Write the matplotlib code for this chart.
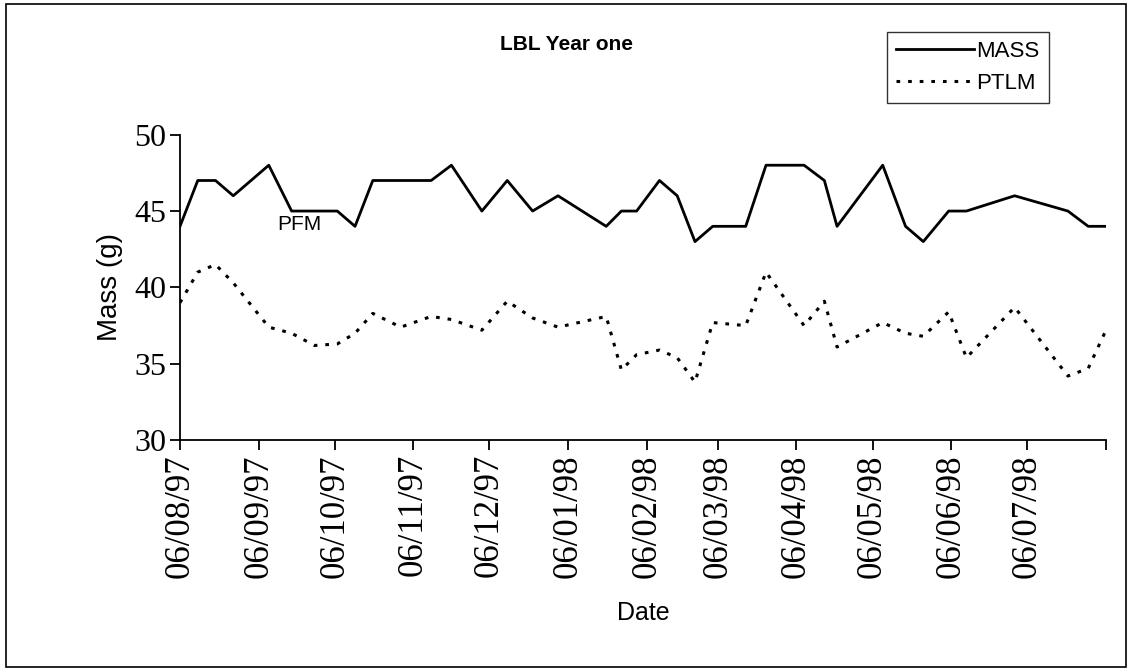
import pandas as pd
import matplotlib
matplotlib.use("Agg")
import matplotlib.pyplot as plt
from matplotlib.patches import Rectangle

# sampling dates (dd/mm/yy on the axis)
dates = pd.to_datetime([
    "1997-08-06", "1997-08-13", "1997-08-20", "1997-08-27", "1997-09-10",
    "1997-09-19", "1997-09-28", "1997-10-07", "1997-10-14", "1997-10-21",
    "1997-11-01", "1997-11-13", "1997-11-21", "1997-12-03", "1997-12-13",
    "1997-12-23", "1998-01-02", "1998-01-21", "1998-01-27", "1998-02-02",
    "1998-02-11", "1998-02-18", "1998-02-25", "1998-03-04", "1998-03-17",
    "1998-03-25", "1998-04-09", "1998-04-17", "1998-04-22", "1998-05-10",
    "1998-05-19", "1998-05-26", "1998-06-05", "1998-06-12", "1998-07-01",
    "1998-07-22", "1998-07-30", "1998-08-06",
])

mass = [44, 47, 47, 46, 48, 45, 45, 45, 44, 47,
        47, 47, 48, 45, 47, 45, 46, 44, 45, 45,
        47, 46, 43, 44, 44, 48, 48, 47, 44, 48,
        44, 43, 45, 45, 46, 45, 44, 44]

ptlm = [39.0, 41.0, 41.5, 40.3, 37.4, 37.0, 36.2, 36.3, 37.0, 38.3,
        37.4, 38.1, 37.9, 37.2, 39.1, 38.0, 37.4, 38.1, 34.6, 35.6,
        35.9, 35.4, 33.8, 37.7, 37.5, 41.0, 37.5, 39.1, 36.1, 37.7,
        37.0, 36.8, 38.4, 35.4, 38.7, 34.2, 34.7, 37.2]

# monthly ticks on the 6th, last one unlabelled
ticks = pd.date_range("1997-08-01", periods=13, freq="MS") + pd.Timedelta(days=5)
tick_labels = [d.strftime("%d/%m/%y") for d in ticks[:-1]] + [""]

fig = plt.figure(figsize=(11.32, 6.7), dpi=100)
ax = fig.add_axes([0.159, 0.343, 0.818, 0.456])

ax.plot(dates, mass, color="black", linewidth=2.0, label="MASS")
ax.plot(dates, ptlm, color="black", linewidth=2.2, linestyle=(0, (1.2, 2.6)),
        label="PTLM")

ax.set_xlim(ticks[0], ticks[-1])
ax.set_ylim(30, 50)
ax.set_yticks([30, 35, 40, 45, 50])
ax.set_xticks(ticks)
ax.set_xticklabels(tick_labels, rotation=90, family="Liberation Serif", fontsize=25)
for lab in ax.get_yticklabels():
    lab.set_family("Liberation Serif")
    lab.set_fontsize(23)

ax.spines["top"].set_visible(False)
ax.spines["right"].set_visible(False)
ax.spines["left"].set_linewidth(1.3)
ax.spines["bottom"].set_linewidth(1.3)
ax.tick_params(direction="out", length=7, width=1.3, pad=3)

ax.set_ylabel("Mass (g)", family="Liberation Sans", fontsize=20, labelpad=8)
ax.set_xlabel("Date", family="Liberation Sans", fontsize=18, labelpad=17)

ax.text(pd.Timestamp("1997-09-22"), 44.1, "PFM", family="Liberation Sans",
        fontsize=15, ha="center", va="center")

fig.text(0.5, 0.933, "LBL Year one", family="Liberation Sans", fontsize=15,
         fontweight="bold", ha="center", va="center")

leg = ax.legend(loc="upper left", bbox_to_anchor=(0.784, 0.952),
                bbox_transform=fig.transFigure, frameon=True, fancybox=False,
                edgecolor="black", handlelength=3.5, handletextpad=0.1,
                borderpad=0.4, labelspacing=0.5, borderaxespad=0,
                prop={"family": "Liberation Sans", "size": 16})
leg.get_frame().set_linewidth(1.0)

# chart border
fig.patches.append(Rectangle((0.005, 0.004), 0.99, 0.99, transform=fig.transFigure,
                             fill=False, edgecolor="black", linewidth=1.2))

fig.savefig("out.png", dpi=100)
